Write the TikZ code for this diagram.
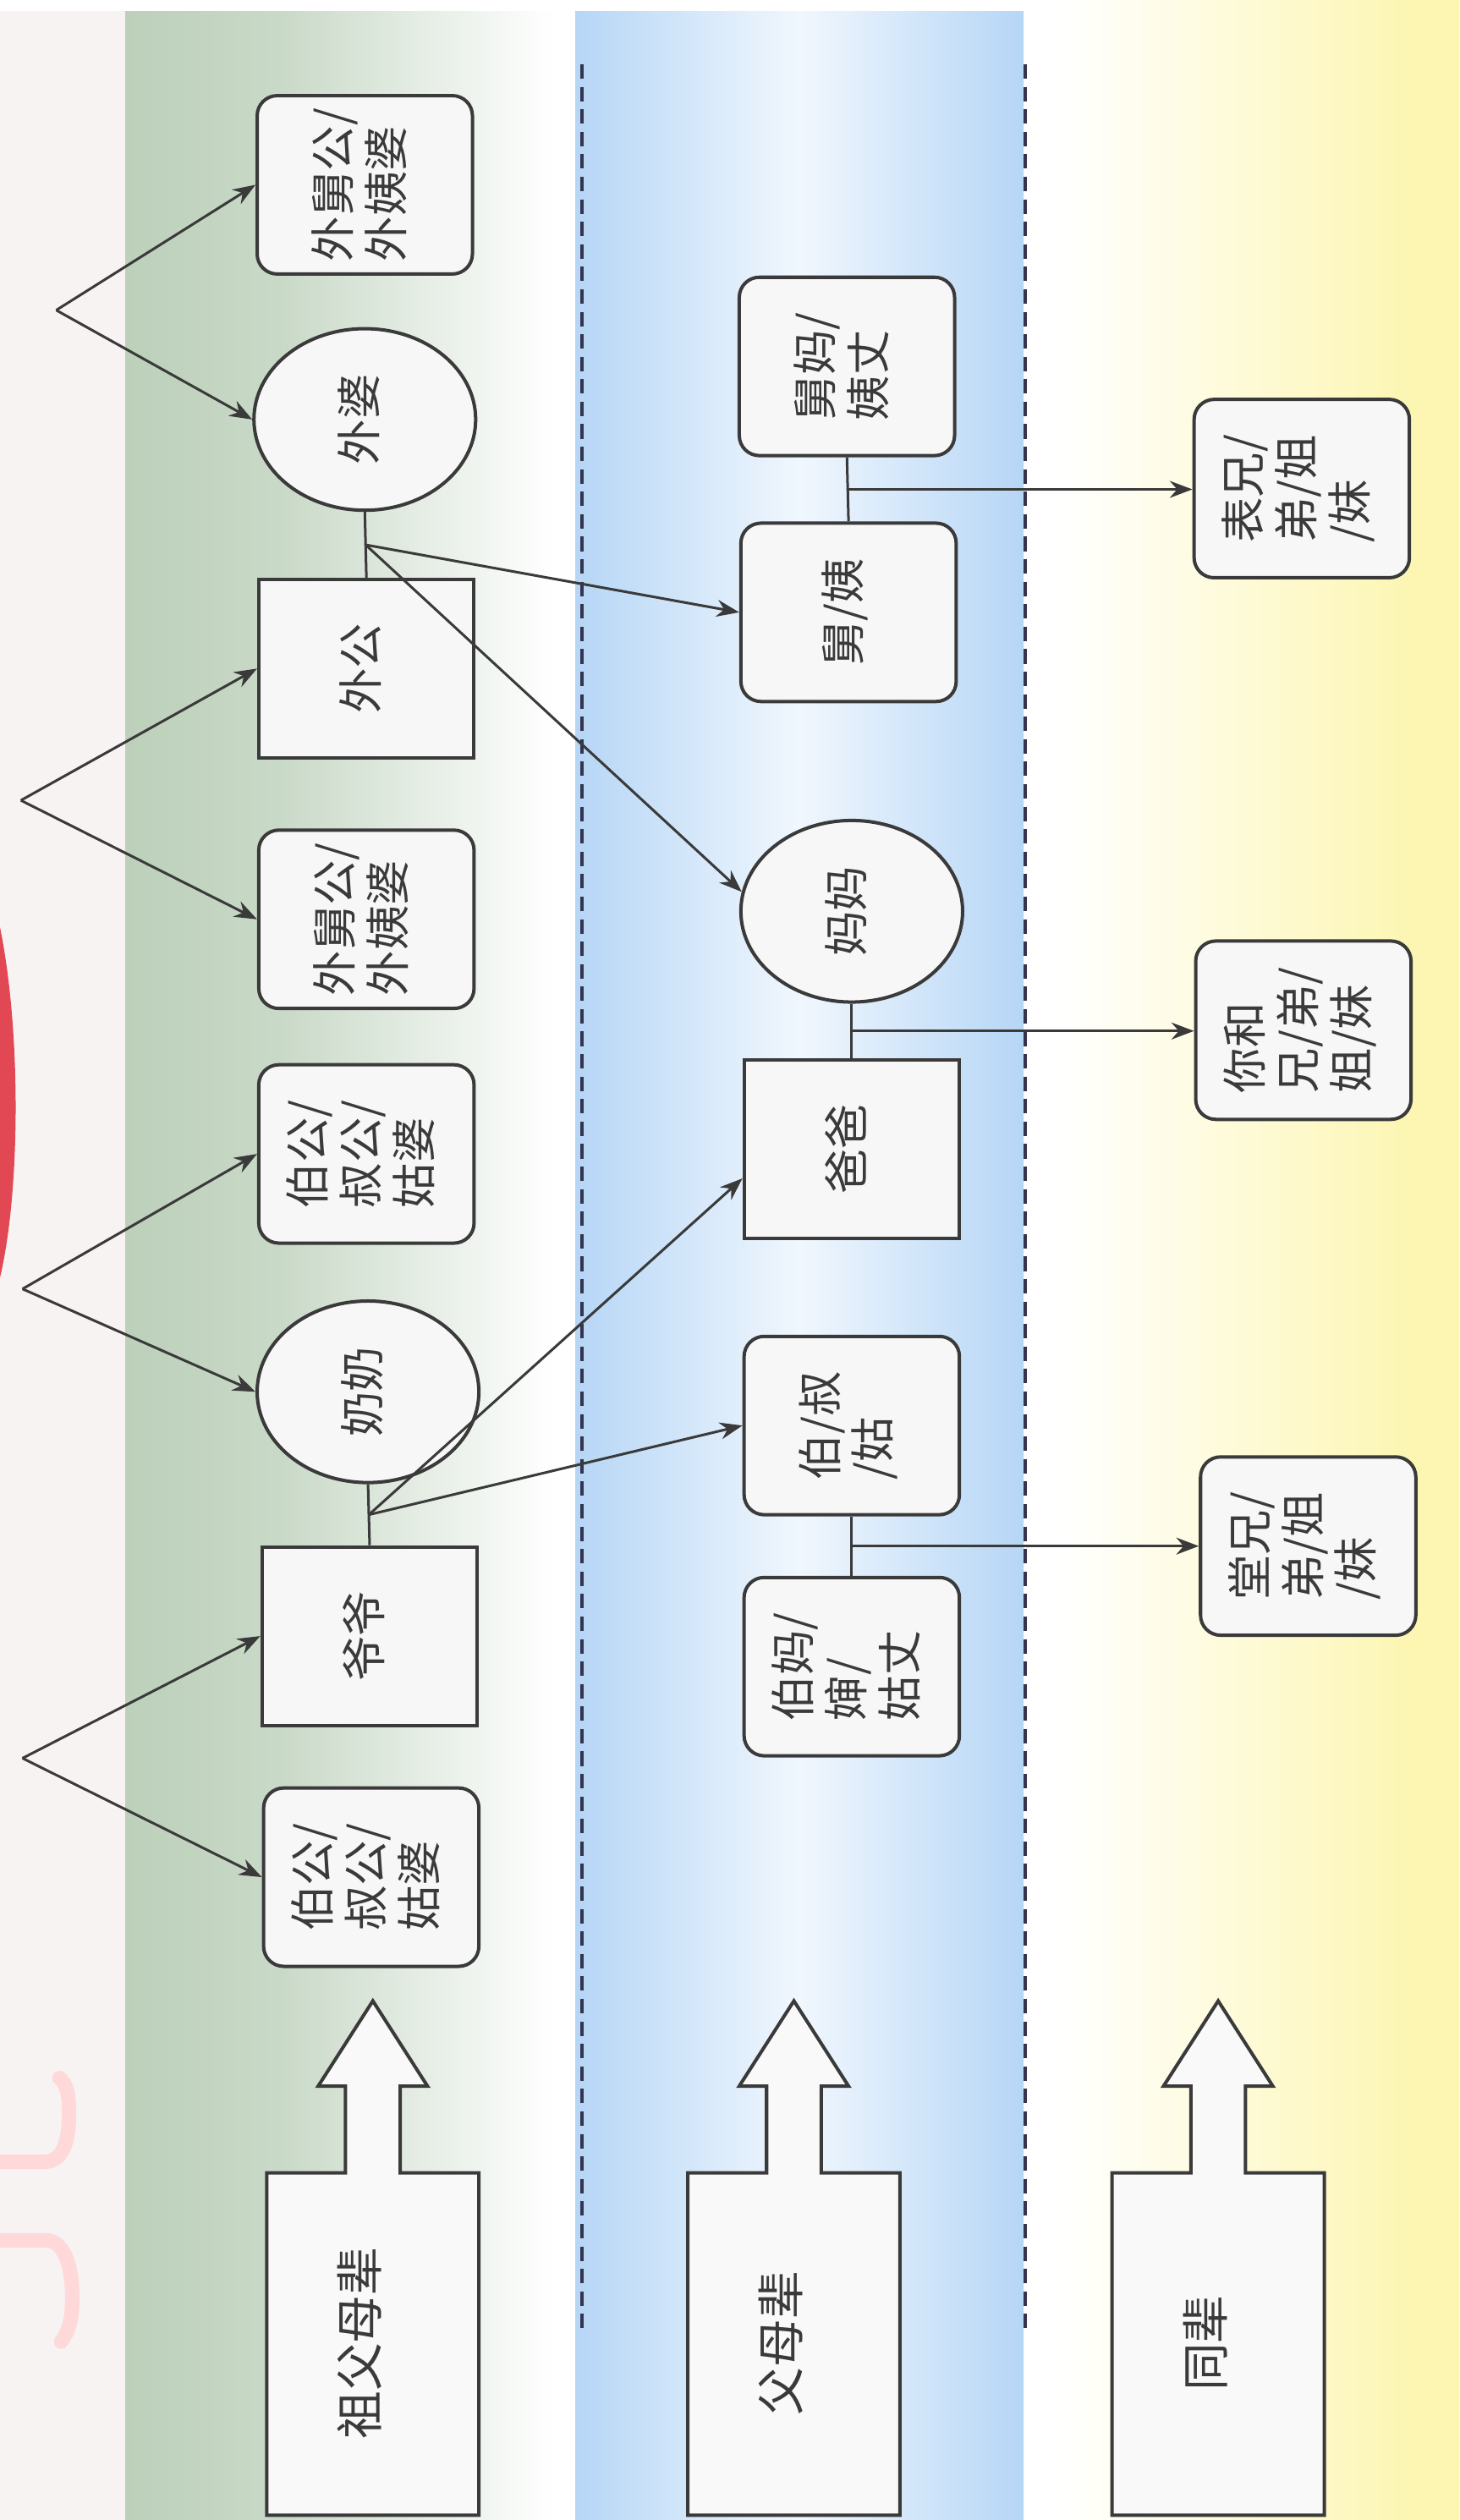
\documentclass[tikz,border=0pt]{standalone}
\usepackage{fontspec}
\newfontfamily\cjk{Noto Sans CJK SC}
\usetikzlibrary{shapes.geometric,arrows.meta,calc}
\definecolor{grn}{RGB}{188,208,186}
\definecolor{blu}{RGB}{182,214,246}
\definecolor{yel}{RGB}{252,246,178}
\definecolor{ink}{RGB}{58,58,58}
\definecolor{pinkbg}{RGB}{248,243,243}
\definecolor{redarc}{RGB}{226,72,84}
\newcommand{\vt}[1]{\rotatebox{90}{\begin{tabular}{@{}l@{}}#1\end{tabular}}}

\begin{document}
\begin{tikzpicture}[x=0.02cm,y=-0.02cm,
  every node/.style={font=\cjk\fontsize{16}{18}\selectfont, text=ink},
  rbox/.style={draw=ink, line width=1.2pt, fill=gray!6, rounded corners=0.25cm, minimum width=2.68cm, minimum height=2.22cm, inner sep=0pt},
  sbox/.style={rbox, rounded corners=0pt},
  ebox/.style={draw=ink, line width=1.2pt, fill=gray!6, ellipse, minimum width=2.76cm, minimum height=2.26cm, inner sep=0pt},
  arr/.style={draw=ink, line width=0.9pt, -{Stealth[length=8pt,width=6pt]}},
  link/.style={draw=ink, line width=0.9pt},
  sep/.style={draw=ink!90!blue, line width=1.2pt, dash pattern=on 0.18cm off 0.1cm}]
   \useasboundingbox (0,0) rectangle (908,1568);
   \fill[white] (0,0) rectangle (908,1568);
   \fill[pinkbg] (0,7) rectangle (78,1568);
   \shade[left color=grn, right color=grn!80!white] (78,7) rectangle (175,1568);
   \shade[left color=grn!80!white, right color=white] (175,7) rectangle (345,1568);
   \shade[left color=blu, right color=blu, middle color=blu!20!white] (358,7) rectangle (637,1568);
   \shade[left color=white, right color=yel] (660,0) rectangle (880,1568);
   \fill[yel] (880,0) rectangle (908,1568);
   \fill[redarc] (0,577) .. controls (13,640) and (13,740) .. (0,795) -- cycle;
   \draw[pink!60, line width=0.18cm, line cap=round] (0,1345) -- (28,1345) .. controls (40,1345) and (43,1330) .. (43,1315) .. controls (43,1302) and (41,1296) .. (37,1293);
   \draw[pink!60, line width=0.18cm, line cap=round] (0,1394) -- (30,1394) .. controls (42,1396) and (45,1415) .. (45,1430) .. controls (45,1445) and (42,1452) .. (38,1457);
   \path[sep] (362,40) -- (362,1450);
   \path[sep] (638,40) -- (638,1450);

   \node[rbox] (wjg1) at (227,115) {\vt{外舅公/\\外姨婆}};
   \node[ebox] (wp) at (227,261) {\vt{外婆}};
   \node[sbox] (wg) at (228,416) {\vt{外公}};
   \node[rbox] (wjg2) at (228,572) {\vt{外舅公/\\外姨婆}};
   \node[rbox] (bg1) at (228,718) {\vt{伯公/\\叔公/\\姑婆}};
   \node[ebox] (nn) at (229,866) {\vt{奶奶}};
   \node[sbox] (yy) at (230,1018) {\vt{爷爷}};
   \node[rbox] (bg2) at (231,1168) {\vt{伯公/\\叔公/\\姑婆}};

   \node[rbox] (jm) at (527,228) {\vt{舅妈/\\姨丈}};
   \node[rbox] (jiu) at (528,381) {\vt{舅/姨}};
   \node[ebox] (mm) at (530,567) {\vt{妈妈}};
   \node[sbox] (bb) at (530,715) {\vt{爸爸}};
   \node[rbox] (bsg) at (530,887) {\vt{伯/叔\\/姑}};
   \node[rbox] (bm) at (530,1037) {\vt{伯妈/\\婶/\\姑丈}};

   \node[rbox] (bx) at (810,304) {\vt{表兄/\\弟/姐\\/妹}};
   \node[rbox] (nh) at (811,641) {\vt{你和\\兄/弟/\\姐/妹}};
   \node[rbox] (tx) at (814,962) {\vt{堂兄/\\弟/姐\\/妹}};

   \foreach \cx/\lbl/\nm in {232/祖父母辈/gp,494/父母辈/pr,758/同辈/sb}{
      \draw[ink, line width=1.2pt, fill=gray!5] (\cx-66,1565) -- (\cx-66,1352) -- (\cx-17,1352) -- (\cx-17,1298) -- (\cx-34,1298) -- (\cx,1245) -- (\cx+34,1298) -- (\cx+17,1298) -- (\cx+17,1352) -- (\cx+66,1352) -- (\cx+66,1565) -- cycle;
      \node[font=\cjk\fontsize{17}{20}\selectfont] (\nm) at (\cx-4,1458) {\vt{\lbl}};
   }

   \coordinate (v1) at (35,193);
   \coordinate (v2) at (13,498);
   \coordinate (v3) at (14,802);
   \coordinate (v4) at (14,1094);
   \path[arr] (v1) -- (wjg1.west);
   \path[arr] (v1) -- (wp.west);
   \path[arr] (v2) -- (wg.west);
   \path[arr] (v2) -- (wjg2.west);
   \path[arr] (v3) -- (bg1.west);
   \path[arr] (v3) -- (nn.west);
   \path[arr] (v4) -- (yy.west);
   \path[arr] (v4) -- (bg2.west);

   \path[link] (wp.south) -- (wg.north);
   \coordinate (j1) at ($(wp.south)!.5!(wg.north)$);
   \path[arr] (j1) -- (jiu.west);
   \path[arr] (j1) -- (mm.170);
   \path[link] (nn.south) -- (yy.north);
   \coordinate (j2) at ($(nn.south)!.5!(yy.north)$);
   \path[arr] (j2) -- (bb.-165);
   \path[arr] (j2) -- (bsg.west);

   \path[link] (jm.south) -- (jiu.north);
   \coordinate (j3) at ($(jm.south)!.5!(jiu.north)$);
   \path[arr] (j3) -- (j3 -| bx.west);
   \path[link] (mm.south) -- (bb.north);
   \coordinate (j4) at ($(mm.south)!.5!(bb.north)$);
   \path[arr] (j4) -- (j4 -| nh.west);
   \path[link] (bsg.south) -- (bm.north);
   \coordinate (j5) at ($(bsg.south)!.5!(bm.north)$);
   \path[arr] (j5) -- (j5 -| tx.west);
\end{tikzpicture}
\end{document}
